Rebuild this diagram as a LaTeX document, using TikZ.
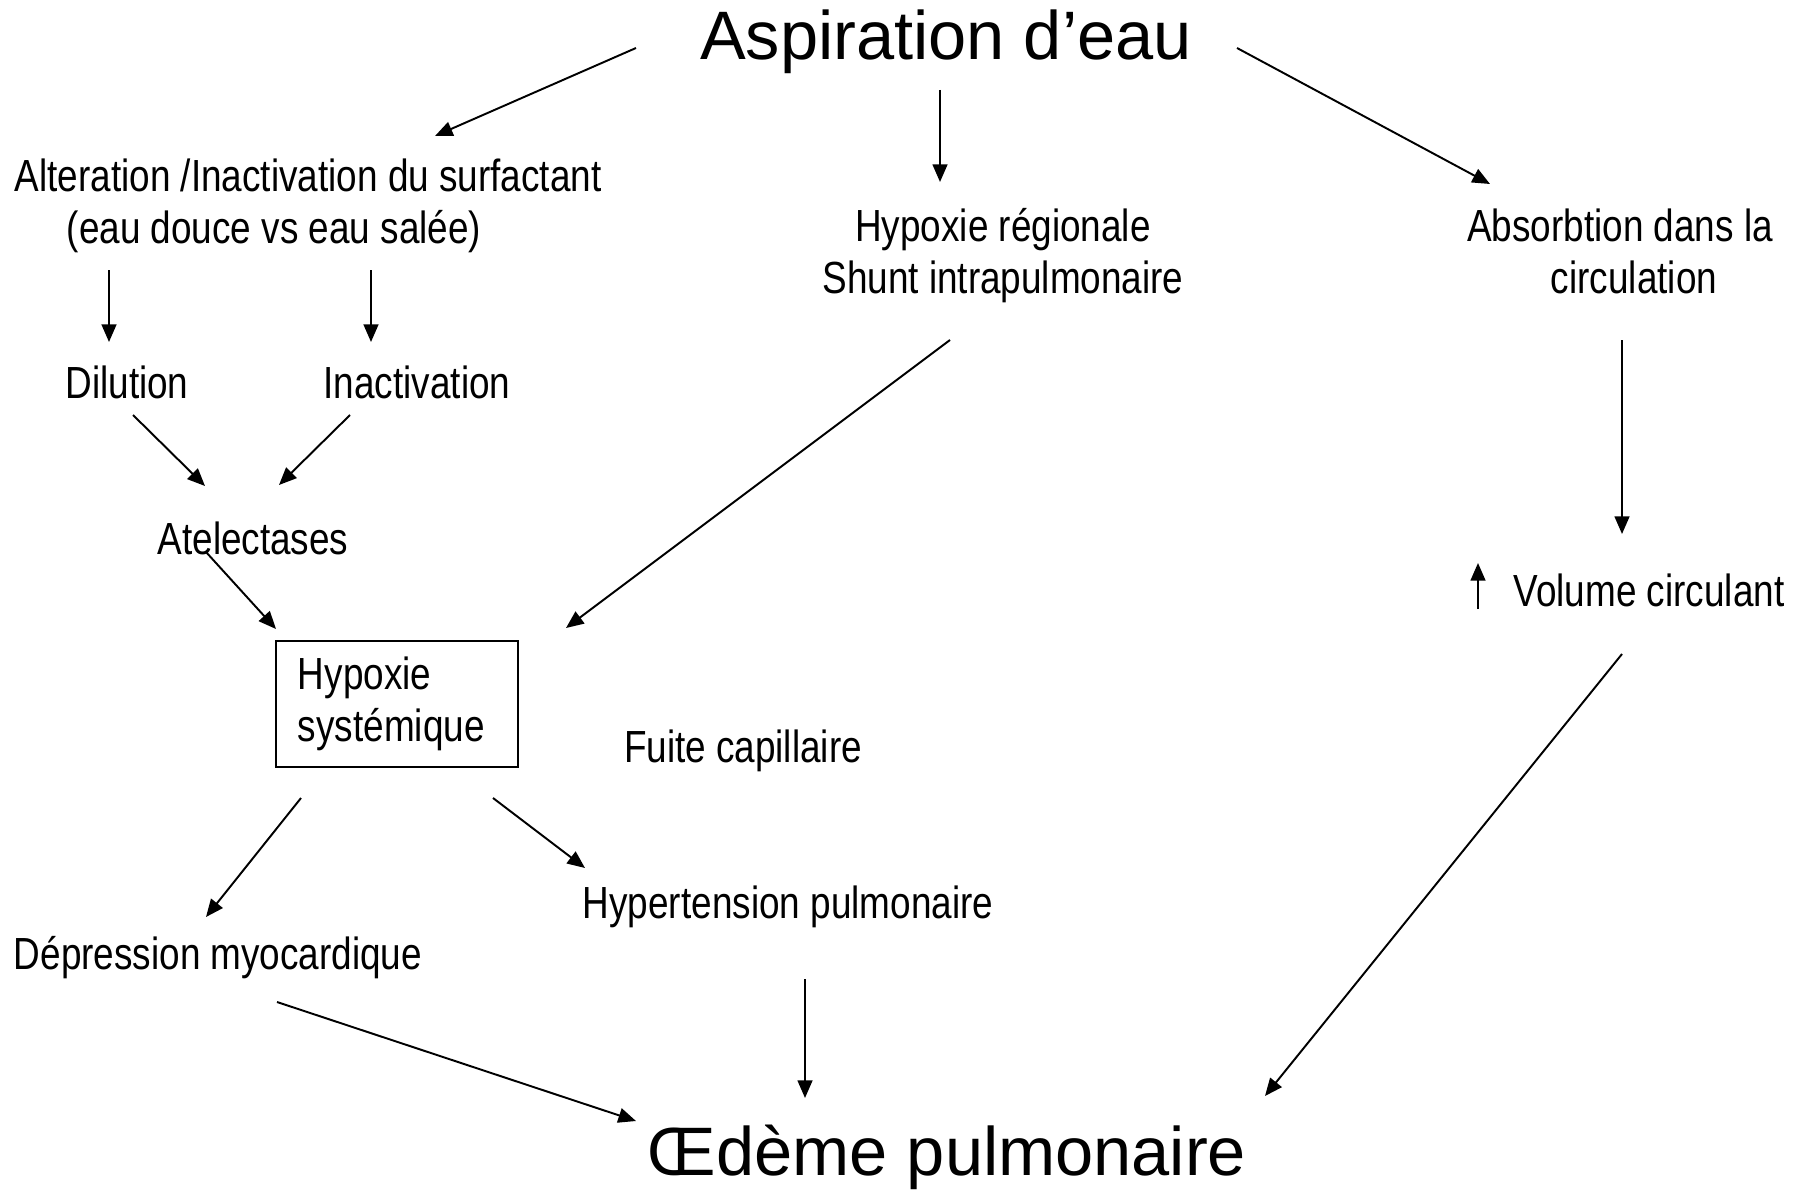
\documentclass[tikz,border=0pt]{standalone}
\usepackage{fontspec}
\setmainfont{Liberation Sans}
\newfontfamily\narrowfont{Liberation Sans}[FakeStretch=0.82]
\usetikzlibrary{arrows.meta}

\tikzset{
  lbl/.style={inner sep=0pt, font=\narrowfont\fontsize{12.8pt}{14.6pt}\selectfont},
  ttl/.style={inner sep=0pt, font=\fontsize{19.5pt}{23pt}\selectfont},
  arr/.style={-{Triangle[length=5pt,width=4.2pt]}, line width=0.55pt},
  hbox/.style={lbl, draw, line width=0.6pt, align=left, text width=1.98cm,
    inner xsep=0.22cm, minimum height=1.26cm}
}

\begin{document}
\begin{tikzpicture}[x=0.01cm, y=-0.01cm]
\useasboundingbox (0,0) rectangle (1803,1191);

% texts
\node[ttl, anchor=base] (asp) at (946,60) {Aspiration d’eau};
\node[lbl, anchor=base west, align=left] (alt) at (14,243)
  {Alteration /Inactivation du surfactant\\\hspace*{0.52cm}(eau douce vs eau salée)};
\node[lbl, anchor=base, align=center] (hreg) at (1003,293) {Hypoxie régionale\\Shunt intrapulmonaire};
\node[lbl, anchor=base, align=center] (abs) at (1620,293) {Absorbtion dans la\\\hspace*{0.28cm}circulation};
\node[lbl, anchor=base] (dil) at (127,398) {Dilution};
\node[lbl, anchor=base] (ina) at (417,398) {Inactivation};
\node[lbl, anchor=base] (ate) at (253,554) {Atelectases};
\node[hbox] (hsys) at (397,704) {Hypoxie\\systémique};
\node[lbl, anchor=base] (fuite) at (743,762) {Fuite capillaire};
\node[lbl, anchor=base] (vol) at (1649,606) {Volume circulant};
\node[lbl, anchor=base] (htp) at (788,918) {Hypertension pulmonaire};
\node[lbl, anchor=base] (dep) at (218,969) {Dépression myocardique};
\node[ttl, anchor=base] (oed) at (947,1175) {Œdème pulmonaire};

% arrow ends
\coordinate (aspL) at (636,48);   \coordinate (altT) at (435,136);
\coordinate (aspB) at (940,90);   \coordinate (hregT) at (940,182);
\coordinate (aspR) at (1237,48);  \coordinate (absT) at (1490,184);
\coordinate (altL) at (109,270);  \coordinate (dilT) at (109,342);
\coordinate (altR) at (371,270);  \coordinate (inaT) at (371,342);
\coordinate (dilB) at (133,415);  \coordinate (ateL) at (205,486);
\coordinate (inaB) at (350,415);  \coordinate (ateR) at (279,485);
\coordinate (ateB) at (206,552);  \coordinate (hsysT) at (276,629);
\coordinate (hregB) at (950,340); \coordinate (hsysR) at (566,628);
\coordinate (absB) at (1622,340); \coordinate (volT) at (1622,534);
\coordinate (volU) at (1478,609); \coordinate (volV) at (1478,563);
\coordinate (hsysL) at (301,798); \coordinate (depT) at (206,917);
\coordinate (hsysB) at (493,798); \coordinate (htpT) at (585,868);
\coordinate (depB) at (277,1002); \coordinate (oedL) at (636,1121);
\coordinate (htpB) at (805,979);  \coordinate (oedT) at (805,1098);
\coordinate (volB) at (1622,654); \coordinate (oedR) at (1265,1096);

% arrows
\draw[arr] (aspL) -- (altT);
\draw[arr] (aspB) -- (hregT);
\draw[arr] (aspR) -- (absT);
\draw[arr] (altL) -- (dilT);
\draw[arr] (altR) -- (inaT);
\draw[arr] (dilB) -- (ateL);
\draw[arr] (inaB) -- (ateR);
\draw[arr] (ateB) -- (hsysT);
\draw[arr] (hregB) -- (hsysR);
\draw[arr] (absB) -- (volT);
\draw[arr] (volU) -- (volV); % hausse du volume
\draw[arr] (hsysL) -- (depT);
\draw[arr] (hsysB) -- (htpT);
\draw[arr] (depB) -- (oedL);
\draw[arr] (htpB) -- (oedT);
\draw[arr] (volB) -- (oedR);
\end{tikzpicture}
\end{document}
